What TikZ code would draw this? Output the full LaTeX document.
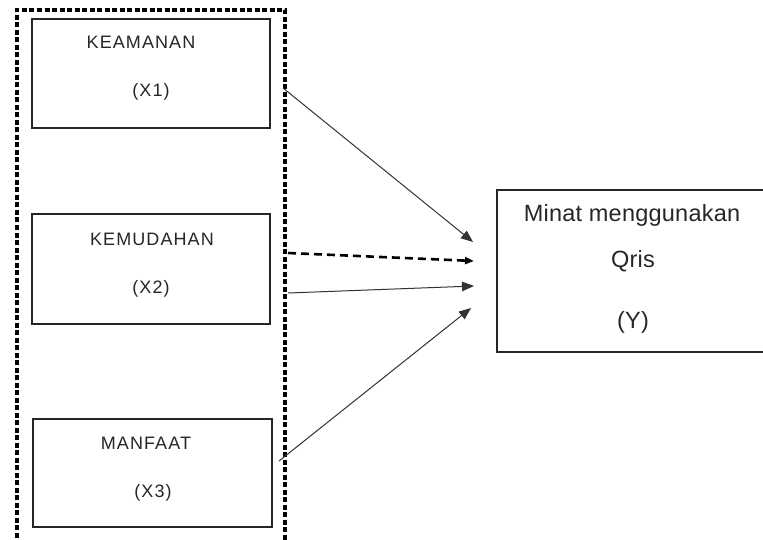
\documentclass[tikz,border=0pt]{standalone}
\usepackage{fontspec}
\setmainfont{Liberation Sans}
\usetikzlibrary{arrows.meta}
\begin{document}
\begin{tikzpicture}[x=1pt,y=-1pt,
  box/.style={draw=black!85, line width=1.4pt, inner sep=0pt, fill=none},
  smalltxt/.style={anchor=base, inner sep=0pt, text=black!85,
    font=\fontsize{18}{21}\selectfont\addfontfeatures{LetterSpace=6}},
  bigtxt/.style={anchor=base, inner sep=0pt, text=black!85,
    font=\fontsize{23.5}{27}\selectfont\addfontfeatures{LetterSpace=1}},
  arr/.style={draw=black!80, line width=1pt, -{Triangle[length=12pt,width=9.5pt]}},
  darr/.style={draw=black, line width=2.6pt, dash pattern=on 8pt off 5pt,
    -{Triangle[length=9pt,width=7pt]}},
  dashframe/.style={draw=black, line width=3.6pt, dash pattern=on 5pt off 2.5pt}
]
\useasboundingbox (0,0) rectangle (763,540);
\clip (0,0) rectangle (763,540);

% outer dashed frame
\coordinate (gbl) at (17,545);
\coordinate (gtl) at (17,10);
\coordinate (gtr) at (285,10);
\coordinate (gbr) at (285,545);
\draw[dashframe] (gbl) -- (gtl) -- (gtr) -- (gbr);

% boxes
\node[box, minimum width=238pt, minimum height=109pt] (bx1) at (151,73.5) {};
\node[box, minimum width=238pt, minimum height=110pt] (bx2) at (151,269) {};
\node[box, minimum width=239pt, minimum height=108pt] (bx3) at (152.5,473) {};
\node[box, minimum width=273pt, minimum height=162pt] (by) at (633.5,271) {};

% texts
\node[smalltxt] (t1a) at (141,49) {KEAMANAN};
\node[smalltxt] (t1b) at (151,97) {(X1)};
\node[smalltxt] (t2a) at (152,246) {KEMUDAHAN};
\node[smalltxt] (t2b) at (151,293) {(X2)};
\node[smalltxt] (t3a) at (146,449) {MANFAAT};
\node[smalltxt] (t3b) at (153,497) {(X3)};
\node[bigtxt] (tya) at (632,222) {Minat menggunakan};
\node[bigtxt] (tyb) at (633,267) {Qris};
\node[bigtxt] (tyc) at (633,328) {(Y)};

% connector ends
\coordinate (s1) at (283,88);
\coordinate (s2) at (288,253);
\coordinate (s3) at (288,293);
\coordinate (s4) at (279,461);
\coordinate (e1) at (473,242);
\coordinate (e2) at (474,261);
\coordinate (e3) at (474,286);
\coordinate (e4) at (471,308);

\draw[arr] (s1) -- (e1);
\draw[darr] (s2) -- (e2);
\draw[arr] (s3) -- (e3);
\draw[arr] (s4) -- (e4);
\end{tikzpicture}
\end{document}
